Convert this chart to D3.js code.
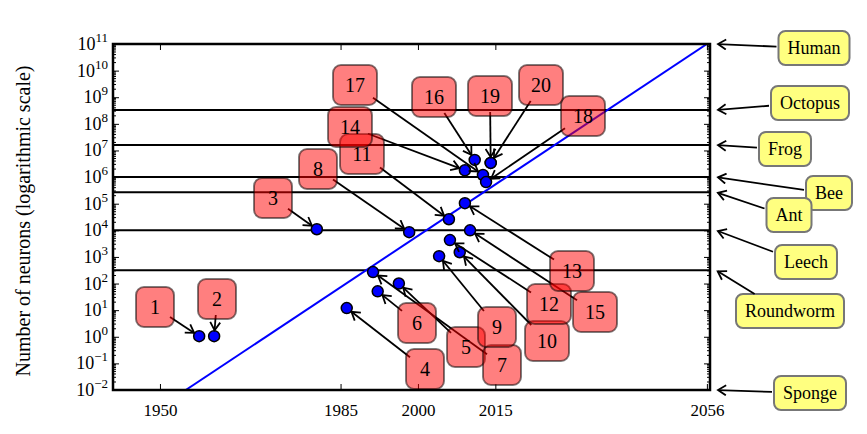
<!DOCTYPE html><html><head><meta charset="utf-8">
<script src="https://cdn.jsdelivr.net/npm/d3@7"></script>
<style>body{margin:0;background:#fff}text{font-family:"Liberation Serif",serif}</style></head><body>
<svg id="c" width="867" height="434"></svg>
<script>
const ids    = [1,2,3,4,5,6,7,8,9,10,11,12,13,14,15,16,17,18,19,20];
const years  = [1957.6,1960.5,1980.4,1986.2,1996.3,1992.2,1991.3,1998.3,2004.1,2008.1,2006.0,2006.2,2009.1,2009.1,2010.1,2011.0,2012.6,2013.2,2014.1,2014.1];
const neurons= [1.05,1.05,1.1e4,12,100,51,270,8500,1070,1500,2.6e4,4300,1.05e5,1.8e6,1.0e4,4.4e6,1.2e6,6.5e5,3.4e6,3.4e6];
const labelPos = [[155,307],[217,299],[273,198],[425,369],[466,347],[417,323],[502,365],[318,169],[497,327],[547,341],[362,154],[549,304],[572,271],[350,127],[595,312],[434,97],[355,85],[583,116],[490,96],[541,85]];
const animals = ["Human","Octopus","Frog","Bee","Ant","Leech","Roundworm","Sponge"];
const animalNeurons = [1.1e11,3.3e8,1.6e7,1e6,2.7e5,1e4,316,1e-2];
const animalLabelPos = [[814,48],[810,103],[785,149],[829,193],[789,215],[806,262],[790,311],[810,393]];
const yearTicks = [1950,1985,2000,2015,2056];
const trend = [[1955,1e-2],[2056,1e11]];

const svg=d3.select("#c");
const L=113,R=710,T=44,B=390;
const x=d3.scaleLinear().domain([1940.9,2056.6]).range([L,R]);
const y=d3.scaleLog().domain([1e-2,1e11]).range([B,T]);
const defs=svg.append("defs");
defs.append("marker").attr("id","ah").attr("viewBox","-10 -6 12 12").attr("refX",0).attr("refY",0)
 .attr("markerWidth",12).attr("markerHeight",12).attr("markerUnits","userSpaceOnUse").attr("orient","auto")
 .append("path").attr("d","M-8,-5L0,0L-8,5").attr("fill","none").attr("stroke","#000").attr("stroke-width",1.8);
defs.append("clipPath").attr("id","pc").append("rect").attr("x",L).attr("y",T).attr("width",R-L).attr("height",B-T);

svg.append("g").selectAll("line").data(animalNeurons.slice(1,7)).join("line")
 .attr("x1",L).attr("x2",R).attr("y1",d=>y(d)).attr("y2",d=>y(d)).attr("stroke","#000").attr("stroke-width",2);
svg.append("line").attr("clip-path","url(#pc)").attr("x1",x(trend[0][0])).attr("y1",y(trend[0][1]))
 .attr("x2",x(trend[1][0])).attr("y2",y(trend[1][1])).attr("stroke","#0000ff").attr("stroke-width",2);

const majors=d3.range(-2,12).map(e=>Math.pow(10,e));
const minor=[];for(let e=-2;e<11;e++)for(let k=2;k<10;k++)minor.push(k*Math.pow(10,e));
const yg=svg.append("g").attr("transform",`translate(${L},0)`).call(d3.axisLeft(y).tickValues(majors).tickSize(-6).tickFormat(()=>""));
yg.select(".domain").remove();
yg.selectAll(".mn").data(minor).join("line").attr("x1",0).attr("x2",3).attr("y1",d=>y(d)).attr("y2",d=>y(d)).attr("stroke","#000");
const yr=svg.append("g").attr("transform",`translate(${R},0)`).call(d3.axisRight(y).tickValues(majors).tickSize(-6).tickFormat(()=>""));
yr.select(".domain").remove();
yr.selectAll(".mn").data(minor).join("line").attr("x1",0).attr("x2",-3).attr("y1",d=>y(d)).attr("y2",d=>y(d)).attr("stroke","#000");
d3.range(-2,12).forEach(e=>{
 const t=svg.append("text").attr("x",L-5).attr("y",y(Math.pow(10,e))+6).attr("text-anchor","end").attr("font-size",18);
 t.append("tspan").text("10");
 t.append("tspan").attr("dy",-8).attr("font-size",13).text(e<0?"\u2212"+(-e):e);
});
const xa=svg.append("g").attr("transform",`translate(0,${B})`).call(d3.axisBottom(x).tickValues(yearTicks).tickSize(-6).tickPadding(14).tickFormat(d3.format("d")));
xa.select(".domain").remove();
xa.selectAll("text").attr("font-size",17).attr("font-family","Liberation Serif").attr("fill","#000");
svg.append("g").attr("transform",`translate(0,${T})`).call(d3.axisTop(x).tickValues(yearTicks).tickSize(-6).tickFormat("")).select(".domain").remove();
svg.append("rect").attr("x",L).attr("y",T).attr("width",R-L).attr("height",B-T).attr("fill","none").attr("stroke","#000").attr("stroke-width",2.5);
svg.append("text").attr("transform",`translate(30,${(T+B)/2+4}) rotate(-90)`).attr("text-anchor","middle").attr("font-size",20).text("Number of neurons (logarithmic scale)");

svg.append("g").selectAll("circle").data(ids).join("circle").attr("cx",(d,i)=>x(years[i])).attr("cy",(d,i)=>y(neurons[i]))
 .attr("r",5.5).attr("fill","#0000ff").attr("stroke","#000").attr("stroke-width",1.5);

function edge(cx,cy,hw,hh,tx,ty){const dx=tx-cx,dy=ty-cy;const s=Math.min(hw/Math.abs(dx||1e-9),hh/Math.abs(dy||1e-9));return [cx+dx*s,cy+dy*s];}
function arrow(x1,y1,x2,y2,gap){const d=Math.hypot(x2-x1,y2-y1);const ex=x2-(x2-x1)/d*gap,ey=y2-(y2-y1)/d*gap;
 svg.append("line").attr("x1",x1).attr("y1",y1).attr("x2",ex).attr("y2",ey).attr("stroke","#000").attr("stroke-width",1.8).attr("marker-end","url(#ah)");}
ids.forEach((id,i)=>{
 const [cx,cy]=labelPos[i];const w=String(id).length>1?44:38,h=40;
 const px=x(years[i]),py=y(neurons[i]);
 const [sx,sy]=edge(cx,cy,w/2-4,h/2-4,px,py);
 arrow(sx,sy,px,py,6);
});
ids.forEach((id,i)=>{
 const [cx,cy]=labelPos[i];const w=String(id).length>1?44:38,h=40;
 svg.append("rect").attr("x",cx-w/2).attr("y",cy-h/2).attr("width",w).attr("height",h).attr("rx",8)
  .attr("fill","rgba(255,0,0,0.5)").attr("stroke","rgba(0,0,0,0.5)").attr("stroke-width",2);
 svg.append("text").attr("x",cx).attr("y",cy+7).attr("text-anchor","middle").attr("font-size",20).text(id);
});
animals.forEach((a,i)=>{
 const [cx,cy]=animalLabelPos[i];
 const g=svg.append("g");
 const r=g.append("rect");
 const t=g.append("text").attr("x",cx).attr("y",cy+6).attr("text-anchor","middle").attr("font-size",18).text(a);
 const w=t.node().getComputedTextLength()+18,h=34;
 r.attr("x",cx-w/2).attr("y",cy-h/2).attr("width",w).attr("height",h).attr("rx",7)
  .attr("fill","#ffff80").attr("stroke","#777").attr("stroke-width",2);
 const yy=Math.max(T,Math.min(B,y(animalNeurons[i])));
 const [sx,sy]=edge(cx,cy,w/2,h/2,R,yy);
 arrow(sx-2,sy,R+6,yy,2);
});
</script></body></html>
